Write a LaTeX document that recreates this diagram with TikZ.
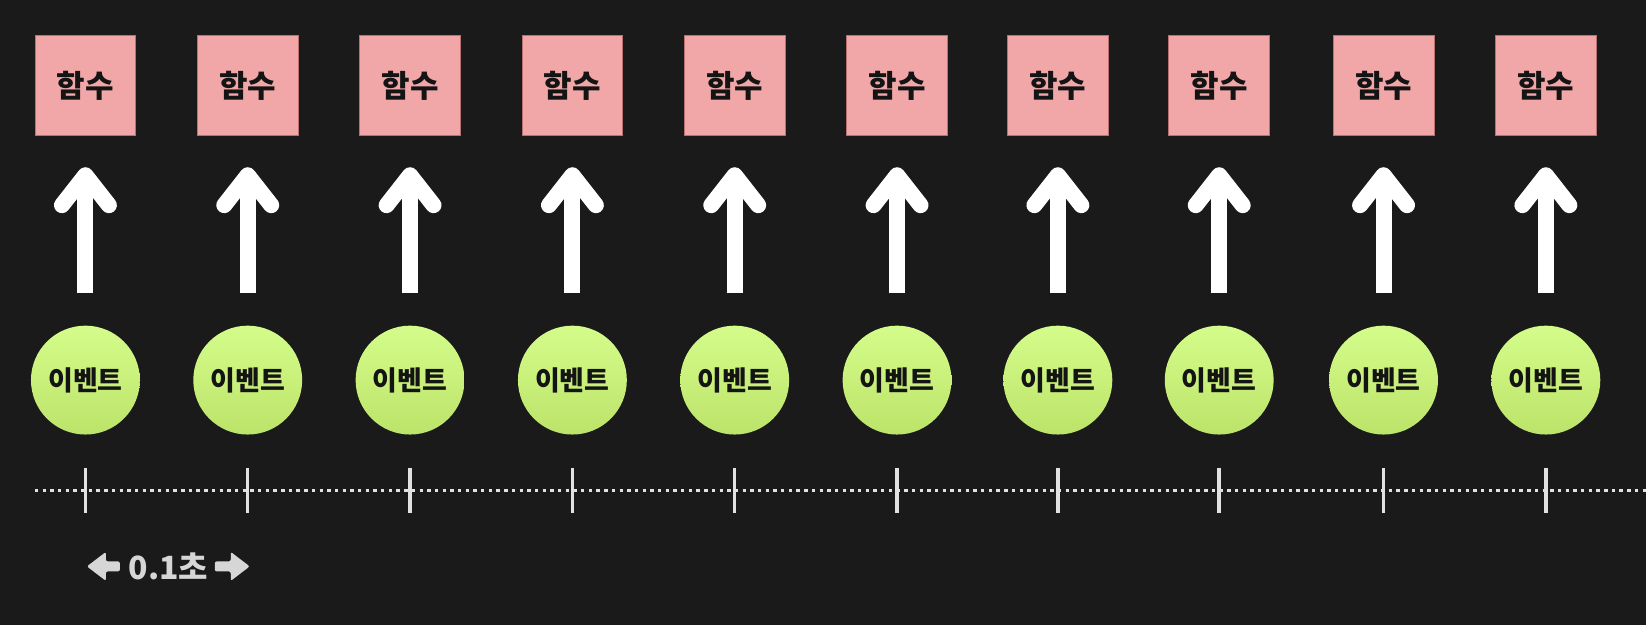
\documentclass[tikz,border=0pt]{standalone}
\usepackage{fontspec}
\newfontfamily\kr{Noto Sans CJK KR}
\usetikzlibrary{calc}
\definecolor{bg}{HTML}{1A1A1A}
\definecolor{boxfill}{HTML}{F1A7A7}
\definecolor{boxline}{HTML}{B87070}
\definecolor{evtop}{HTML}{D4FC8A}
\definecolor{evbot}{HTML}{BCE46A}
\definecolor{ink}{HTML}{141414}
\definecolor{tline}{HTML}{E2E2E2}
\definecolor{lab}{HTML}{D6D6D6}
\begin{document}
\begin{tikzpicture}[x=1pt,y=-1pt,
  funcbox/.style={rectangle, minimum size=101pt, inner sep=0pt, fill=boxfill, draw=boxline, line width=0.8pt, font=\kr\bfseries\fontsize{31}{31}\selectfont, text=ink},
  eventnode/.style={circle, minimum size=109pt, inner sep=0pt, top color=evtop, bottom color=evbot, font=\kr\bfseries\fontsize{27}{27}\selectfont, text=ink},
  shaft/.style={draw=white, line width=16pt, line cap=butt},
  chevron/.style={draw=white, line width=16pt, line cap=round, line join=round},
  timeline/.style={draw=tline, line width=3.5pt, dash pattern=on 3.4pt off 4.3pt},
  tickmark/.style={draw=tline, line width=3.5pt},
  spanarrow/.style={fill=lab, rounded corners=2pt},
  spanlabel/.style={font=\kr\bfseries\fontsize{32}{32}\selectfont, text=lab, inner sep=0pt}
]
\fill[bg] (0,0) rectangle (1648,626);
\coordinate (tl0) at (35,491);
\coordinate (tl1) at (1648,491);
\draw[timeline] (tl0) -- (tl1);
\foreach \x [count=\i] in {85.5,248,410.5,573,735.5,898,1059,1220.5,1385,1547.5} {
  \node[funcbox] (f\i) at (\x,85.5) {함수};
  \node[eventnode] (e\i) at (\x,380.5) {이벤트};
  \coordinate (tip\i) at ($(f\i.south)+(0,39)$);
  \draw[shaft, shorten <=32pt, shorten >=39pt] (e\i.north) -- (f\i.south);
  \draw[chevron] ($(tip\i)+(-23.5,30)$) -- (tip\i) -- ($(tip\i)+(23.5,30)$);
  \draw[tickmark] ($(e\i.south)+(0,33)$) -- ++(0,45);
}
\node[spanlabel] (span) at (168.5,567) {0.1초};
\fill[spanarrow] (87,567) -- (106,552.5) -- (106,562) -- (120,562) -- (120,572) -- (106,572) -- (106,581.5) -- cycle;
\fill[spanarrow] (250,567) -- (231,552.5) -- (231,562) -- (215,562) -- (215,572) -- (231,572) -- (231,581.5) -- cycle;
\end{tikzpicture}
\end{document}
